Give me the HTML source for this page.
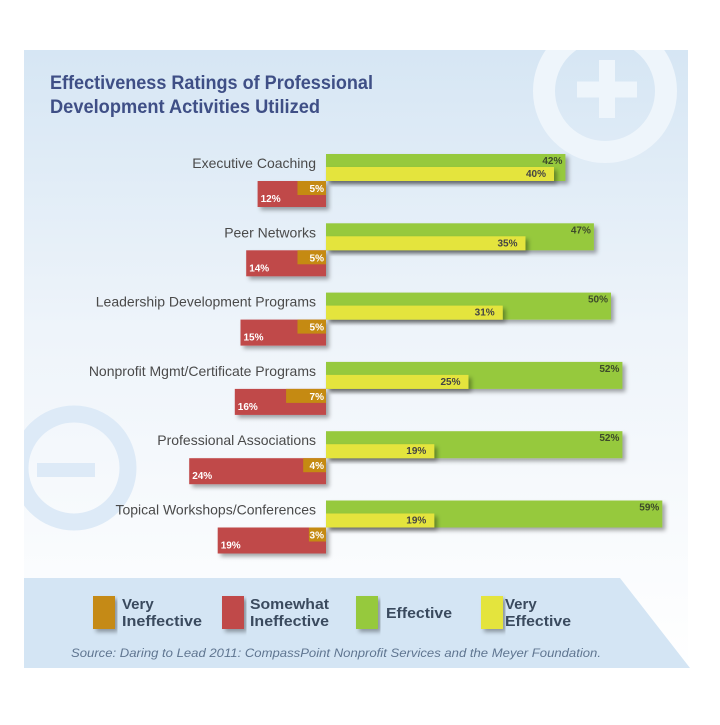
<!DOCTYPE html>
<html><head><meta charset="utf-8"><style>
body{margin:0;width:720px;height:720px;background:#fff;overflow:hidden;font-family:"Liberation Sans",sans-serif;}
svg text{font-family:"Liberation Sans",sans-serif;}
</style></head><body>
<svg width="720" height="720" id="svg">
<defs>
<linearGradient id="bg" x1="0" y1="0" x2="0" y2="1">
<stop offset="0" stop-color="#d6e6f4"/><stop offset="0.45" stop-color="#eef4fa"/><stop offset="1" stop-color="#ffffff"/>
</linearGradient>
<clipPath id="pc"><rect x="24" y="50" width="664" height="620"/></clipPath>
<filter id="sh" x="-5%" y="-20%" width="115%" height="160%"><feDropShadow dx="3" dy="3" stdDeviation="2" flood-color="#000" flood-opacity="0.35"/></filter>
</defs>
<rect x="24" y="50" width="664" height="620" fill="url(#bg)"/>
<g clip-path="url(#pc)" fill="none">
<circle cx="605" cy="91" r="61" stroke-width="22" stroke="#eef5fb"/>
<path d="M577 89.5H637M607 60V118" stroke-width="16" stroke="#eef5fb"/>
<circle cx="74" cy="468" r="54" stroke-width="17" stroke="#ddeaf7"/>
<path d="M37 470H95" stroke-width="14" stroke="#ddeaf7"/>
</g>
<text x="50" y="89" font-size="19" font-weight="bold" fill="#3f4f86" textLength="323" lengthAdjust="spacingAndGlyphs">Effectiveness Ratings of Professional</text>
<text x="50" y="113" font-size="19" font-weight="bold" fill="#3f4f86" textLength="270" lengthAdjust="spacingAndGlyphs">Development Activities Utilized</text>
<g id="bars"></g>
<polygon points="24,578 620,578 690,668 24,668" fill="#d4e5f4"/>
<g>
<rect x="93" y="596" width="22" height="33" fill="#c58a12" filter="url(#sh)"/>
<text x="122" y="609" font-size="15" font-weight="bold" fill="#3a4a5e"><tspan x="122">Very</tspan><tspan x="122" dy="17" textLength="80" lengthAdjust="spacingAndGlyphs">Ineffective</tspan></text>
<rect x="222" y="596" width="22" height="33" fill="#c0484a" filter="url(#sh)"/>
<text x="250" y="609" font-size="15" font-weight="bold" fill="#3a4a5e"><tspan x="250" textLength="79" lengthAdjust="spacingAndGlyphs">Somewhat</tspan><tspan x="250" dy="17" textLength="79" lengthAdjust="spacingAndGlyphs">Ineffective</tspan></text>
<rect x="356" y="596" width="22" height="33" fill="#96c93c" filter="url(#sh)"/>
<text x="386" y="618" font-size="15" font-weight="bold" fill="#3a4a5e" textLength="66" lengthAdjust="spacingAndGlyphs">Effective</text>
<rect x="481" y="596" width="22" height="33" fill="#e4e43e" filter="url(#sh)"/>
<text x="505" y="609" font-size="15" font-weight="bold" fill="#3a4a5e"><tspan x="505">Very</tspan><tspan x="505" dy="17" textLength="66" lengthAdjust="spacingAndGlyphs">Effective</tspan></text>
</g>
<text x="71" y="657" font-size="11.5" font-style="italic" fill="#5f7590" textLength="530" lengthAdjust="spacingAndGlyphs">Source: Daring to Lead 2011: CompassPoint Nonprofit Services and the Meyer Foundation.</text>
</svg>
<script>
const categories=["Executive Coaching","Peer Networks","Leadership Development Programs","Nonprofit Mgmt/Certificate Programs","Professional Associations","Topical Workshops/Conferences"];
const effective=[42,47,50,52,52,59];
const veryEffective=[40,35,31,25,19,19];
const somewhatIneffective=[12,14,15,16,24,19];
const veryIneffective=[5,5,5,7,4,3];
const X0=326, S=5.7, TOP0=154, STEP=69.3;
const xs=v=>v*S;
const ns="http://www.w3.org/2000/svg";
const g=document.getElementById('bars');
function mk(tag,attrs,parent){const e=document.createElementNS(ns,tag);for(const k in attrs)e.setAttribute(k,attrs[k]);(parent||g).appendChild(e);return e;}
categories.forEach((c,i)=>{
 const t=TOP0+i*STEP;
 const grp=mk('g',{});
 
 
 const lab=mk('text',{x:316,y:t+14,'font-size':14,fill:'#4a4a4a','text-anchor':'end'},grp);lab.textContent=c;
 
 
 const ge=mk('rect',{x:X0,y:t,width:xs(effective[i]),height:27,fill:'#96c93c',filter:'url(#sh)'},grp);
 
 
 const ye=mk('rect',{x:X0,y:t+13,width:xs(veryEffective[i]),height:14,fill:'#e4e43e',filter:'url(#sh)'},grp);
 
 
 const rw=xs(somewhatIneffective[i]);
 const re=mk('rect',{x:X0-rw,y:t+27,width:rw,height:26,fill:'#c0484a',filter:'url(#sh)'},grp);
 
 
 const ow=xs(veryIneffective[i]);
 const oe=mk('rect',{x:X0-ow,y:t+27,width:ow,height:14,fill:'#c58a12'},grp);
 
 
 const lbls=[[X0+xs(effective[i])-3,t+10,effective[i],'end','#3d4a2a'],[X0+xs(veryEffective[i])-8,t+23,veryEffective[i],'end','#444'],[X0-2,t+38,veryIneffective[i],'end','#fff'],[X0-rw+3,t+48,somewhatIneffective[i],'start','#fff']];
 const nm=['value-effective','value-very-effective','value-very-ineffective','value-somewhat-ineffective'];
 lbls.forEach((l,k)=>{const tx=mk('text',{x:l[0],y:l[1],'font-size':10,'font-weight':'bold',fill:l[4],'text-anchor':l[3]},grp);tx.textContent=l[2]+'%';
 
 });
});
</script>
</body></html>
